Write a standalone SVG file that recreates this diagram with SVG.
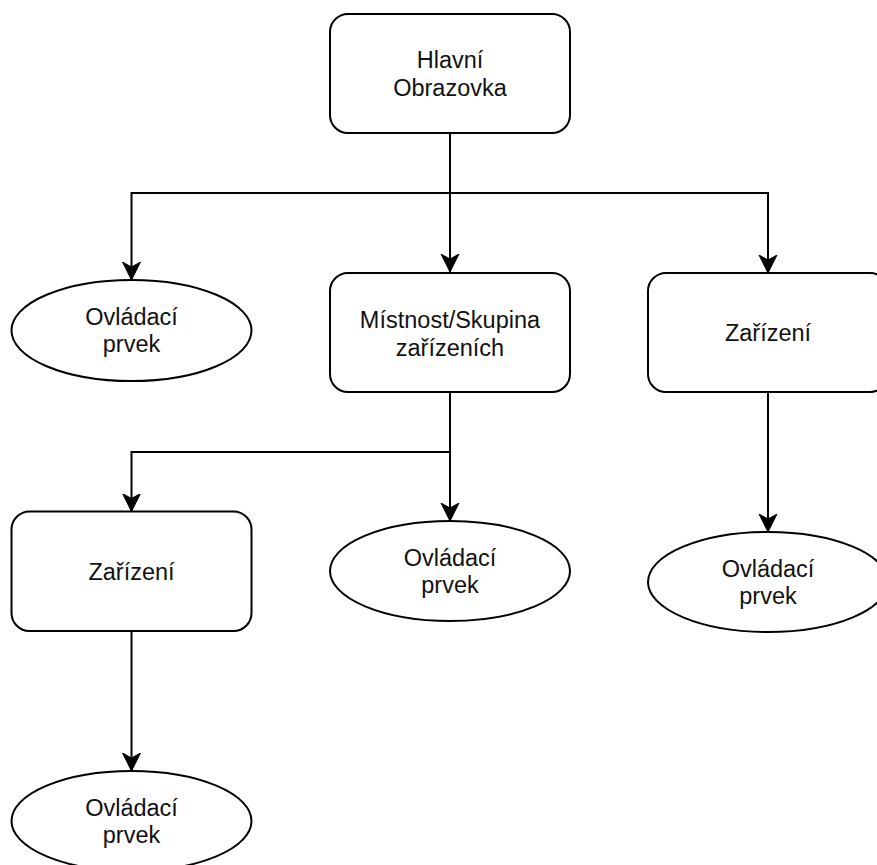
<svg xmlns="http://www.w3.org/2000/svg" width="877" height="865" viewBox="0 0 877 865">
  <style>
    .box { fill: #ffffff; stroke: #000000; stroke-width: 2; }
    .edge { fill: none; stroke: #000000; stroke-width: 2; }
    .lbl { font-family: "Liberation Sans", Arial, Helvetica, sans-serif; font-size: 23.5px; fill: #111111; text-anchor: middle; }
  </style>
  <defs>
    <marker id="arrow" viewBox="0 0 20 20" refX="18" refY="10" markerWidth="20" markerHeight="20" markerUnits="userSpaceOnUse" orient="auto">
      <path d="M 0 1 L 18 10 L 0 19 L 5 10 Z" fill="#000000" stroke="#000000" stroke-width="1" stroke-linejoin="miter"/>
    </marker>
  </defs>
  <rect width="877" height="865" fill="#ffffff"/>

  <g id="connectors">
    <path class="edge" d="M 450 133 L 450 272" marker-end="url(#arrow)"/>
    <path class="edge" d="M 450 193 L 131.5 193 L 131.5 280" marker-end="url(#arrow)"/>
    <path class="edge" d="M 450 193 L 768 193 L 768 273" marker-end="url(#arrow)"/>
    <path class="edge" d="M 450 392 L 450 521" marker-end="url(#arrow)"/>
    <path class="edge" d="M 450 452 L 131.5 452 L 131.5 511.5" marker-end="url(#arrow)"/>
    <path class="edge" d="M 768 392 L 768 532" marker-end="url(#arrow)"/>
    <path class="edge" d="M 131.5 631 L 131.5 771" marker-end="url(#arrow)"/>
  </g>

  <g id="hlavni-obrazovka">
    <rect class="box" x="330" y="14" width="240" height="119" rx="18" ry="18"/>
    <text class="lbl" x="450" y="68">Hlavní</text>
    <text class="lbl" x="450" y="96">Obrazovka</text>
  </g>

  <g id="ovladaci-prvek-1">
    <ellipse class="box" cx="131.5" cy="330.5" rx="120" ry="50.5"/>
    <text class="lbl" x="131.5" y="325">Ovládací</text>
    <text class="lbl" x="131.5" y="352">prvek</text>
  </g>

  <g id="mistnost-skupina">
    <rect class="box" x="330" y="273" width="240" height="119" rx="18" ry="18"/>
    <text class="lbl" x="450" y="328">Místnost/Skupina</text>
    <text class="lbl" x="450" y="356">zařízeních</text>
  </g>

  <g id="zarizeni-1">
    <rect class="box" x="648" y="273" width="240" height="119" rx="18" ry="18"/>
    <text class="lbl" x="768" y="341">Zařízení</text>
  </g>

  <g id="zarizeni-2">
    <rect class="box" x="11.5" y="511.5" width="240" height="119.5" rx="18" ry="18"/>
    <text class="lbl" x="131.5" y="580">Zařízení</text>
  </g>

  <g id="ovladaci-prvek-2">
    <ellipse class="box" cx="450" cy="571" rx="120" ry="50"/>
    <text class="lbl" x="450" y="566">Ovládací</text>
    <text class="lbl" x="450" y="593">prvek</text>
  </g>

  <g id="ovladaci-prvek-3">
    <ellipse class="box" cx="768" cy="582" rx="120" ry="50"/>
    <text class="lbl" x="768" y="577">Ovládací</text>
    <text class="lbl" x="768" y="604">prvek</text>
  </g>

  <g id="ovladaci-prvek-4">
    <ellipse class="box" cx="131.5" cy="821" rx="120" ry="50"/>
    <text class="lbl" x="131.5" y="816">Ovládací</text>
    <text class="lbl" x="131.5" y="843">prvek</text>
  </g>
</svg>
